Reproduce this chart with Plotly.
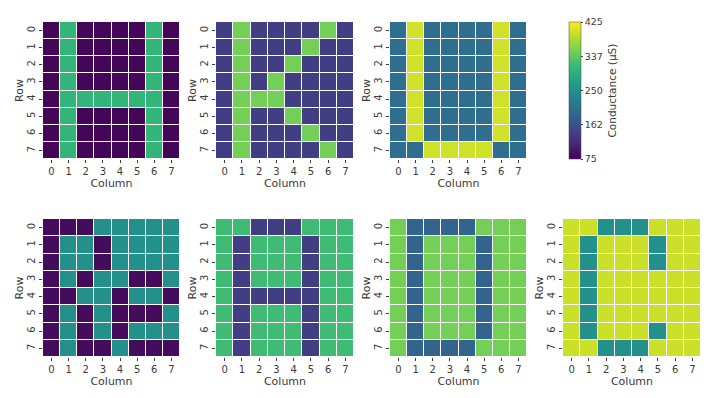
import plotly.graph_objects as go

cols = [0, 1, 2, 3, 4, 5, 6, 7]
rows = [0, 1, 2, 3, 4, 5, 6, 7]
cbar_ticks = [75, 162, 250, 337, 425]

# Panel values (conductance, µS), row-major
h1 = [
    [80, 305, 80, 80, 80, 80, 305, 80],
    [80, 305, 80, 80, 80, 80, 305, 80],
    [80, 305, 80, 80, 80, 80, 305, 80],
    [80, 305, 80, 80, 80, 80, 305, 80],
    [80, 305, 305, 305, 305, 305, 305, 80],
    [80, 305, 80, 80, 80, 80, 305, 80],
    [80, 305, 80, 80, 80, 80, 305, 80],
    [80, 305, 80, 80, 80, 80, 305, 80],
]
k2 = [
    [140, 350, 140, 140, 140, 140, 350, 140],
    [140, 350, 140, 140, 140, 350, 140, 140],
    [140, 350, 140, 140, 350, 140, 140, 140],
    [140, 350, 140, 350, 140, 140, 140, 140],
    [140, 350, 350, 350, 140, 140, 140, 140],
    [140, 350, 140, 140, 350, 140, 140, 140],
    [140, 350, 140, 140, 140, 350, 140, 140],
    [140, 350, 140, 140, 140, 140, 350, 140],
]
u3 = [
    [200, 400, 200, 200, 200, 200, 400, 200],
    [200, 400, 200, 200, 200, 200, 400, 200],
    [200, 400, 200, 200, 200, 200, 400, 200],
    [200, 400, 200, 200, 200, 200, 400, 200],
    [200, 400, 200, 200, 200, 200, 400, 200],
    [200, 400, 200, 200, 200, 200, 400, 200],
    [200, 400, 200, 200, 200, 200, 400, 200],
    [200, 200, 400, 400, 400, 400, 200, 200],
]
r5 = [
    [85, 85, 85, 250, 250, 250, 250, 250],
    [85, 250, 250, 85, 250, 250, 250, 250],
    [85, 250, 250, 85, 250, 250, 250, 250],
    [85, 250, 85, 250, 250, 85, 85, 250],
    [85, 85, 250, 250, 85, 250, 250, 85],
    [85, 250, 85, 250, 85, 85, 85, 250],
    [85, 250, 85, 250, 85, 250, 250, 250],
    [85, 250, 85, 85, 250, 85, 85, 85],
]
h6 = [
    [315, 315, 140, 140, 140, 315, 315, 315],
    [315, 140, 315, 315, 315, 140, 315, 315],
    [315, 140, 315, 315, 315, 140, 315, 315],
    [315, 140, 315, 315, 315, 140, 315, 315],
    [315, 140, 140, 140, 140, 140, 315, 315],
    [315, 140, 315, 315, 315, 140, 315, 315],
    [315, 140, 315, 315, 315, 140, 315, 315],
    [315, 140, 315, 315, 315, 140, 315, 315],
]
o7 = [
    [350, 187, 187, 187, 187, 350, 350, 350],
    [350, 187, 350, 350, 350, 187, 350, 350],
    [350, 187, 350, 350, 350, 187, 350, 350],
    [350, 187, 350, 350, 350, 187, 350, 350],
    [350, 187, 350, 350, 350, 187, 350, 350],
    [350, 187, 350, 350, 350, 187, 350, 350],
    [350, 187, 350, 350, 350, 187, 350, 350],
    [350, 187, 187, 187, 187, 350, 350, 350],
]
c8 = [
    [398, 398, 252, 252, 252, 398, 398, 398],
    [398, 252, 398, 398, 398, 252, 398, 398],
    [398, 252, 398, 398, 398, 252, 398, 398],
    [398, 252, 398, 398, 398, 398, 398, 398],
    [398, 252, 398, 398, 398, 398, 398, 398],
    [398, 252, 398, 398, 398, 398, 398, 398],
    [398, 252, 398, 398, 398, 252, 398, 398],
    [398, 398, 252, 252, 252, 398, 398, 398],
]

OFF = 8  # default page body margin
W, H = 719 - OFF, 398 - OFF
panels = [
    (h1, (43, 180), (22, 159)),
    (k2, (216, 354), (22, 159)),
    (u3, (390, 527), (22, 159)),
    (r5, (43, 180), (219, 357)),
    (h6, (216, 354), (219, 357)),
    (o7, (390, 527), (219, 357)),
    (c8, (563, 701), (219, 357)),
]

def px(x):
    return (x - OFF) / W

def py(y):
    return 1 - (y - OFF) / H

fig = go.Figure()
font = "DejaVu Sans, Arial, sans-serif"
tc = "#3a3a3a"
layout = {}
for i, (z, (x0, x1), (y0, y1)) in enumerate(panels, start=1):
    xa = "x" if i == 1 else f"x{i}"
    ya = "y" if i == 1 else f"y{i}"
    fig.add_trace(go.Heatmap(
        z=z, x=cols, y=rows, coloraxis="coloraxis",
        xgap=1, ygap=1, xaxis=xa, yaxis=ya,
        hovertemplate="Row %{y}, Col %{x}: %{z} µS<extra></extra>",
    ))
    layout[f"xaxis{'' if i == 1 else i}"] = dict(
        domain=[px(x0), px(x1)], anchor=ya,
        tickmode="array", tickvals=cols, ticktext=[str(c) for c in cols],
        ticks="outside", ticklen=3, tickcolor=tc, showgrid=False, zeroline=False,
        showline=False,
        tickfont=dict(size=10, color=tc, family=font),
        title=dict(text="Column", font=dict(size=11, color=tc, family=font), standoff=2),
        range=[-0.5, 7.5],
    )
    layout[f"yaxis{'' if i == 1 else i}"] = dict(
        domain=[py(y1), py(y0)], anchor=xa,
        tickmode="array", tickvals=rows, ticktext=[str(r) for r in rows],
        ticks="outside", ticklen=3, tickcolor=tc, showgrid=False, zeroline=False,
        showline=False, tickangle=-90,
        tickfont=dict(size=10, color=tc, family=font),
        title=dict(text="Row", font=dict(size=11, color=tc, family=font), standoff=0),
        range=[7.5, -0.5],
    )

fig.update_layout(
    width=W, height=H,
    margin=dict(l=0, r=0, t=0, b=0),
    paper_bgcolor="white", plot_bgcolor="white",
    showlegend=False,
    coloraxis=dict(
        colorscale="Viridis", cmin=75, cmax=425,
        colorbar=dict(
            x=px(569), xanchor="left", y=py(22), yanchor="top",
            len=137 / H, lenmode="fraction", thickness=12,
            xpad=0, ypad=0,
            outlinewidth=0.5, outlinecolor="#444",
            tickmode="array", tickvals=cbar_ticks, ticktext=[str(t) for t in cbar_ticks],
            ticks="outside", ticklen=2,
            tickfont=dict(size=9.5, color=tc, family=font),
        ),
    ),
    annotations=[dict(
        text="Conductance (µS)", textangle=-90, showarrow=False,
        xref="paper", yref="paper", x=px(611), y=py(90.5),
        xanchor="center", yanchor="middle",
        font=dict(size=10.5, color=tc, family=font),
    )],
    **layout,
)

fig.write_html("out.html")
